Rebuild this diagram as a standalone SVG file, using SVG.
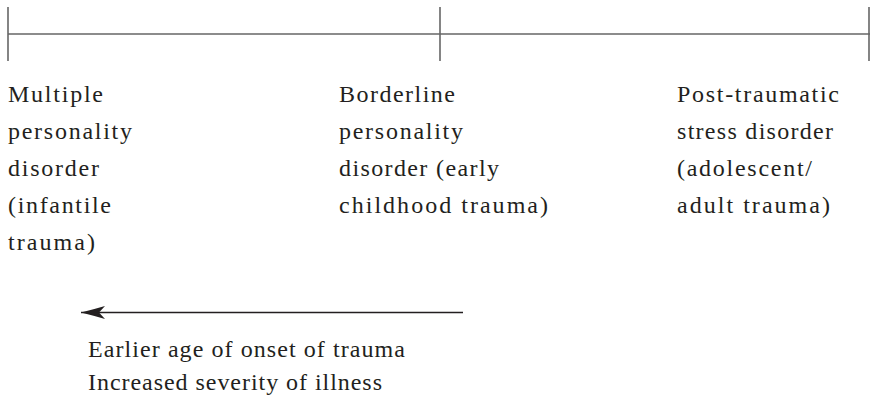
<svg xmlns="http://www.w3.org/2000/svg" width="870" height="401" viewBox="0 0 870 401">
<defs>
<style>
.t{font-family:"Liberation Serif","Times New Roman",serif;font-size:24px;fill:#231f20}
.axis{stroke:#666;stroke-width:1.6;fill:none}
.arr{stroke:#231f20;stroke-width:1.3;fill:none}
</style>
<marker id="ah" markerWidth="26" markerHeight="14" refX="24" refY="7" orient="auto" markerUnits="userSpaceOnUse" overflow="visible">
<path d="M24,7 Q12,4 0,0.5 L6,7 L0,13.5 Q12,10 24,7 Z" fill="#231f20"/>
</marker>
</defs>
<rect width="870" height="401" fill="#fff"/>
<g id="connectors">
<line class="axis" x1="8" y1="34" x2="870" y2="34"/>
<line class="axis" x1="8" y1="7" x2="8" y2="61"/>
<line class="axis" x1="440" y1="7" x2="440" y2="61"/>
<line class="axis" x1="869" y1="7" x2="869" y2="61"/>
<line class="arr" x1="463" y1="312.5" x2="81" y2="312.5" marker-end="url(#ah)"/>
</g>
<g id="node-mpd">
<text class="t" x="8" y="101.5" textLength="95" lengthAdjust="spacing">Multiple</text>
<text class="t" x="8" y="138.5" textLength="124" lengthAdjust="spacing">personality</text>
<text class="t" x="8" y="175.5" textLength="91" lengthAdjust="spacing">disorder</text>
<text class="t" x="8" y="212.5" textLength="103" lengthAdjust="spacing">(infantile</text>
<text class="t" x="8" y="249.5" textLength="87" lengthAdjust="spacing">trauma)</text>
</g>
<g id="node-bpd">
<text class="t" x="339" y="101.5" textLength="116" lengthAdjust="spacing">Borderline</text>
<text class="t" x="339" y="138.5" textLength="124" lengthAdjust="spacing">personality</text>
<text class="t" x="339" y="175.5" textLength="160" lengthAdjust="spacing">disorder (early</text>
<text class="t" x="339" y="212.5" textLength="209" lengthAdjust="spacing">childhood trauma)</text>
</g>
<g id="node-ptsd">
<text class="t" x="677" y="101.5" textLength="162" lengthAdjust="spacing">Post-traumatic</text>
<text class="t" x="677" y="138.5" textLength="156" lengthAdjust="spacing">stress disorder</text>
<text class="t" x="677" y="175.5" textLength="135" lengthAdjust="spacing">(adolescent/</text>
<text class="t" x="677" y="212.5" textLength="153" lengthAdjust="spacing">adult trauma)</text>
</g>
<g id="node-caption">
<text class="t" x="88" y="357" textLength="317" lengthAdjust="spacing">Earlier age of onset of trauma</text>
<text class="t" x="88" y="390" textLength="294" lengthAdjust="spacing">Increased severity of illness</text>
</g>
</svg>
